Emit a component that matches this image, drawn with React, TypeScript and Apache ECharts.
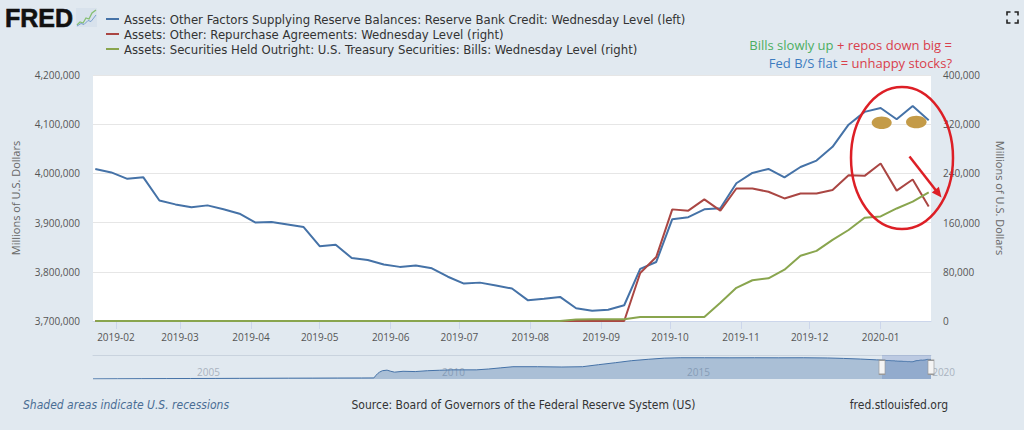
import React, { useEffect, useRef } from 'react';
import * as echarts from 'echarts';

// ---------- data ----------
const weekDates = [
  '2019-01-23', '2019-01-30', '2019-02-06', '2019-02-13', '2019-02-20', '2019-02-27',
  '2019-03-06', '2019-03-13', '2019-03-20', '2019-03-27', '2019-04-03', '2019-04-10',
  '2019-04-17', '2019-04-24', '2019-05-01', '2019-05-08', '2019-05-15', '2019-05-22',
  '2019-05-29', '2019-06-05', '2019-06-12', '2019-06-19', '2019-06-26', '2019-07-03',
  '2019-07-10', '2019-07-17', '2019-07-24', '2019-07-31', '2019-08-07', '2019-08-14',
  '2019-08-21', '2019-08-28', '2019-09-04', '2019-09-11', '2019-09-18', '2019-09-25',
  '2019-10-02', '2019-10-09', '2019-10-16', '2019-10-23', '2019-10-30', '2019-11-06',
  '2019-11-13', '2019-11-20', '2019-11-27', '2019-12-04', '2019-12-11', '2019-12-18',
  '2019-12-25', '2020-01-01', '2020-01-08', '2020-01-15', '2020-01-22',
];

const reserveBankCredit = [
  4009000, 4002000, 3989000, 3992000, 3945000, 3937000,
  3931000, 3935000, 3927000, 3918000, 3900000, 3901000,
  3896000, 3891000, 3852000, 3855000, 3828000, 3824000,
  3815000, 3810000, 3813000, 3807000, 3790000, 3776000,
  3778000, 3772000, 3766000, 3742000, 3745000, 3749000,
  3726000, 3721000, 3723000, 3732000, 3806000, 3820000,
  3907000, 3911000, 3927000, 3929000, 3980000, 4001000,
  4009000, 3992000, 4013000, 4026000, 4054000, 4099000,
  4125000, 4133000, 4110000, 4137000, 4108000,
];

const repurchaseAgreements = [
  0, 0, 0, 0, 0, 0,
  0, 0, 0, 0, 0, 0,
  0, 0, 0, 0, 0, 0,
  0, 0, 0, 0, 0, 0,
  0, 0, 0, 0, 0, 0,
  0, 0, 0, 0, 78000, 104000,
  181500, 179400, 197700, 179400, 215500, 215500,
  210100, 199300, 207400, 207400, 213000, 237000,
  236000, 256000, 212000, 230000, 186000,
];

const treasuryBills = [
  0, 0, 0, 0, 0, 0,
  0, 0, 0, 0, 0, 0,
  0, 0, 0, 0, 0, 0,
  0, 0, 0, 0, 0, 0,
  0, 0, 0, 0, 0, 0,
  2500, 3000, 3000, 3000, 6500, 6500,
  6500, 6500, 6500, 29600, 53900, 66300,
  69500, 83500, 106000, 114000, 132000, 148000,
  168000, 170000, 183000, 194000, 209000,
];

// long-run history shown in the navigator (before the weekly window)
const navDates = [
  '2002-12-18', '2003-06-18', '2003-12-17', '2004-06-16', '2004-12-15', '2005-06-15',
  '2005-12-14', '2006-06-14', '2006-12-13', '2007-06-13', '2007-12-12', '2008-06-11',
  '2008-09-10', '2008-09-24', '2008-10-08', '2008-10-22', '2008-11-12', '2008-12-17',
  '2009-01-14', '2009-02-11', '2009-04-15', '2009-07-15', '2009-10-14', '2010-01-13',
  '2010-04-14', '2010-07-14', '2010-10-13', '2011-01-12', '2011-04-13', '2011-07-13',
  '2012-01-11', '2012-07-11', '2012-12-12', '2013-04-10', '2013-08-14', '2013-12-11',
  '2014-04-16', '2014-08-13', '2014-12-10', '2015-06-10', '2015-12-16', '2016-06-15',
  '2016-12-14', '2017-06-14', '2017-12-13', '2018-04-11', '2018-08-15', '2018-12-12',
];
const navCredit = [
  720000, 740000, 760000, 775000, 790000, 800000,
  815000, 830000, 845000, 855000, 870000, 880000,
  890000, 1300000, 1650000, 1900000, 2150000, 2250000,
  2050000, 1900000, 2050000, 2000000, 2150000, 2230000,
  2300000, 2300000, 2300000, 2450000, 2650000, 2850000,
  2850000, 2800000, 2850000, 3200000, 3550000, 3900000,
  4150000, 4350000, 4420000, 4420000, 4410000, 4420000,
  4410000, 4420000, 4380000, 4300000, 4190000, 4050000,
];

const monthTicks = [
  '2019-02-01', '2019-03-01', '2019-04-01', '2019-05-01', '2019-06-01', '2019-07-01',
  '2019-08-01', '2019-09-01', '2019-10-01', '2019-11-01', '2019-12-01', '2020-01-01',
];
const navYearTicks = ['2005-01-01', '2010-01-01', '2015-01-01', '2020-01-01'];

const seriesNames = [
  'Assets: Other Factors Supplying Reserve Balances: Reserve Bank Credit: Wednesday Level (left)',
  'Assets: Other: Repurchase Agreements: Wednesday Level (right)',
  'Assets: Securities Held Outright: U.S. Treasury Securities: Bills: Wednesday Level (right)',
];
const seriesColors = ['#4572a7', '#aa4643', '#89a54e'];

// ---------- helpers ----------
const toTs = (s: string) => {
  const [y, m, d] = s.split('-').map(Number);
  return new Date(y, m - 1, d).getTime();
};
const fmtNum = (v: number) => Math.round(v).toLocaleString('en-US');

const NARROW = '"Liberation Sans Narrow", "DejaVu Sans Condensed", "Roboto Condensed", "Liberation Sans", sans-serif';
const OPEN = '"Open Sans", "Noto Sans", sans-serif';

function buildOption() {
  const mainMin = toTs('2019-01-22');
  const mainMax = toTs('2020-01-23');
  const navMin = toTs(navDates[0]);
  const navMax = toTs(weekDates[weekDates.length - 1]);
  const selStart = toTs('2019-01-22');
  const selEnd = toTs(weekDates[weekDates.length - 1]);

  const mk = (vals: number[]) => weekDates.map((d, i) => [toTs(d), vals[i]]);
  const navData = navDates
    .map((d, i) => [toTs(d), navCredit[i]])
    .concat(mk(reserveBankCredit));

  const monthTs = monthTicks.map(toTs);
  const yearTs = navYearTicks.map(toTs);

  const legendGraphics: any[] = [];
  seriesNames.forEach((name, i) => {
    const cy = 19 + i * 15;
    legendGraphics.push({
      type: 'rect',
      shape: { x: 106, y: cy - 1, width: 13, height: 2 },
      style: { fill: seriesColors[i] },
    });
    legendGraphics.push({
      type: 'text',
      x: 124,
      y: cy,
      style: {
        text: name,
        font: `13px ${NARROW}`,
        fill: '#333333',
        align: 'left',
        verticalAlign: 'middle',
      },
    });
  });

  const red = '#dd1f26';
  const annFont = `13px ${OPEN}`;

  return {
    animation: false,
    backgroundColor: '#e1e9f0',
    grid: [
      { left: 93, top: 75, width: 838, height: 246, show: true, backgroundColor: '#ffffff', borderWidth: 0 },
      { left: 93, top: 355, width: 838, height: 24, show: false },
    ],
    xAxis: [
      {
        type: 'value',
        gridIndex: 0,
        min: mainMin,
        max: mainMax,
        axisLine: { show: true, lineStyle: { color: '#ccd6eb', width: 1 } },
        axisTick: { show: true, customValues: monthTs, length: 8, lineStyle: { color: '#ccd6eb' } },
        axisLabel: {
          customValues: monthTs,
          formatter: (v: number) => {
            const d = new Date(v);
            return d.getFullYear() + '-' + String(d.getMonth() + 1).padStart(2, '0');
          },
          fontFamily: OPEN,
          fontSize: 10,
          color: '#555555',
          margin: 11,
          hideOverlap: false,
        },
        splitLine: { show: false },
      },
      {
        type: 'value',
        gridIndex: 1,
        min: navMin,
        max: navMax,
        axisLine: { show: false },
        axisTick: { show: false },
        axisLabel: {
          inside: true,
          customValues: yearTs,
          formatter: (v: number) => String(new Date(v).getFullYear()),
          align: 'left',
          verticalAlign: 'middle',
          padding: [0, 0, 0, 4],
          margin: 7,
          fontFamily: OPEN,
          fontSize: 10,
          color: '#a9b3bf',
          hideOverlap: false,
        },
        splitLine: { show: false },
      },
      {
        type: 'value',
        gridIndex: 1,
        position: 'top',
        min: navMin,
        max: navMax,
        axisLine: { show: true, lineStyle: { color: '#c9d3de', width: 1 } },
        axisTick: { show: false },
        axisLabel: { show: false },
        splitLine: { show: false },
      },
    ],
    yAxis: [
      {
        type: 'value',
        gridIndex: 0,
        position: 'left',
        min: 3700000,
        max: 4200000,
        interval: 100000,
        name: 'Millions of U.S. Dollars',
        nameLocation: 'middle',
        nameRotate: 90,
        nameGap: 72,
        nameTextStyle: { fontFamily: OPEN, fontSize: 11, color: '#666666' },
        axisLine: { show: false },
        axisTick: { show: false },
        axisLabel: { formatter: fmtNum, fontFamily: OPEN, fontSize: 10, color: '#555555', margin: 13 },
        splitLine: { show: true, lineStyle: { color: '#e6e6e6', width: 1 } },
      },
      {
        type: 'value',
        gridIndex: 0,
        position: 'right',
        min: 0,
        max: 400000,
        interval: 80000,
        name: 'Millions of U.S. Dollars',
        nameLocation: 'middle',
        nameRotate: -90,
        nameGap: 64,
        nameTextStyle: { fontFamily: OPEN, fontSize: 11, color: '#666666' },
        axisLine: { show: false },
        axisTick: { show: false },
        axisLabel: { formatter: fmtNum, fontFamily: OPEN, fontSize: 10, color: '#555555', margin: 12 },
        splitLine: { show: false },
      },
      {
        type: 'value',
        gridIndex: 1,
        min: 700000,
        max: 4900000,
        show: false,
        splitLine: { show: false },
      },
    ],
    series: [
      {
        name: seriesNames[0],
        type: 'line',
        xAxisIndex: 0,
        yAxisIndex: 0,
        data: mk(reserveBankCredit),
        symbol: 'none',
        lineStyle: { color: seriesColors[0], width: 2 },
        itemStyle: { color: seriesColors[0] },
      },
      {
        name: seriesNames[1],
        type: 'line',
        xAxisIndex: 0,
        yAxisIndex: 1,
        data: mk(repurchaseAgreements),
        symbol: 'none',
        lineStyle: { color: seriesColors[1], width: 2 },
        itemStyle: { color: seriesColors[1] },
      },
      {
        name: seriesNames[2],
        type: 'line',
        xAxisIndex: 0,
        yAxisIndex: 1,
        data: mk(treasuryBills),
        symbol: 'none',
        lineStyle: { color: seriesColors[2], width: 2 },
        itemStyle: { color: seriesColors[2] },
      },
      {
        name: 'navigator',
        type: 'line',
        xAxisIndex: 1,
        yAxisIndex: 2,
        data: navData,
        symbol: 'none',
        silent: true,
        lineStyle: { color: '#4572a7', width: 1 },
        areaStyle: { color: 'rgba(69,114,167,0.5)' },
        markArea: {
          silent: true,
          itemStyle: { color: 'rgba(102,133,194,0.3)' },
          data: [[{ xAxis: selStart }, { xAxis: selEnd }]],
        },
        markPoint: {
          silent: true,
          symbol: 'rect',
          symbolSize: [6, 14],
          label: { show: false },
          itemStyle: { color: '#f4f4f4', borderColor: '#999999', borderWidth: 1 },
          data: [
            { coord: [selStart, 2750000] },
            { coord: [selEnd, 2750000] },
          ],
        },
      },
    ],
    graphic: [
      // FRED logo
      {
        type: 'text',
        x: 5,
        y: 18,
        style: {
          text: 'FRED',
          font: `bold 25px "Liberation Sans", Arial, sans-serif`,
          fill: '#111111',
          stroke: '#111111',
          lineWidth: 0.6,
          align: 'left',
          verticalAlign: 'middle',
        },
      },
      { type: 'rect', shape: { x: 76, y: 8, width: 21, height: 19 }, style: { fill: '#d8e2ec' } },
      {
        type: 'polyline',
        shape: { points: [[77, 25], [80, 22], [83, 23], [86, 18], [89, 19], [92, 13], [96, 10]] },
        style: { stroke: '#86bf72', lineWidth: 1.3, fill: 'none' },
      },
      {
        type: 'polyline',
        shape: { points: [[77, 26], [81, 23.5], [84, 24.5], [88, 20.5], [91, 21.5], [96, 15]] },
        style: { stroke: '#7aa0cf', lineWidth: 1, fill: 'none' },
      },
      // fullscreen icon
      { type: 'polyline', shape: { points: [[1007, 15.5], [1007, 12], [1010.5, 12]] }, style: { stroke: '#222', lineWidth: 1.6, fill: 'none' } },
      { type: 'polyline', shape: { points: [[1014.5, 12], [1018, 12], [1018, 15.5]] }, style: { stroke: '#222', lineWidth: 1.6, fill: 'none' } },
      { type: 'polyline', shape: { points: [[1007, 19.5], [1007, 23], [1010.5, 23]] }, style: { stroke: '#222', lineWidth: 1.6, fill: 'none' } },
      { type: 'polyline', shape: { points: [[1014.5, 23], [1018, 23], [1018, 19.5]] }, style: { stroke: '#222', lineWidth: 1.6, fill: 'none' } },
      ...legendGraphics,
      // annotation text
      {
        type: 'text',
        x: 952,
        y: 45,
        z: 100,
        style: {
          text: '{g|Bills slowly up} {r|+ repos down big =}',
          font: annFont,
          align: 'right',
          verticalAlign: 'middle',
          rich: {
            g: { fill: '#4cae62', font: annFont },
            r: { fill: '#d9404c', font: annFont },
          },
        },
      },
      {
        type: 'text',
        x: 952,
        y: 63,
        z: 100,
        style: {
          text: '{b|Fed B/S flat} {r|= unhappy stocks?}',
          font: annFont,
          align: 'right',
          verticalAlign: 'middle',
          rich: {
            b: { fill: '#3d7cc0', font: annFont },
            r: { fill: '#d9404c', font: annFont },
          },
        },
      },
      // drawn annotations
      {
        type: 'ellipse',
        z: 100,
        shape: { cx: 902, cy: 158, rx: 51, ry: 71 },
        style: { fill: 'none', stroke: red, lineWidth: 2.5 },
      },
      { type: 'ellipse', z: 100, shape: { cx: 881.7, cy: 122.8, rx: 10, ry: 6.3 }, style: { fill: '#c49b48' } },
      { type: 'ellipse', z: 100, shape: { cx: 916.3, cy: 122, rx: 10.3, ry: 6.3 }, style: { fill: '#c49b48' } },
      {
        type: 'line',
        z: 100,
        shape: { x1: 909.5, y1: 156.5, x2: 936, y2: 190.5 },
        style: { stroke: red, lineWidth: 2.5 },
      },
      {
        type: 'polygon',
        z: 100,
        shape: { points: [[941.5, 197.5], [931.8, 192.4], [938.9, 186.85]] },
        style: { fill: red },
      },
      // footer
      {
        type: 'text',
        x: 23,
        y: 405,
        style: {
          text: 'Shaded areas indicate U.S. recessions',
          font: `italic 12px ${NARROW}`,
          fill: '#4a6d94',
          align: 'left',
          verticalAlign: 'middle',
        },
      },
      {
        type: 'text',
        x: 523.5,
        y: 405,
        style: {
          text: 'Source: Board of Governors of the Federal Reserve System (US)',
          font: `12px ${NARROW}`,
          fill: '#333333',
          align: 'center',
          verticalAlign: 'middle',
        },
      },
      {
        type: 'text',
        x: 948,
        y: 405,
        style: {
          text: 'fred.stlouisfed.org',
          font: `12px ${NARROW}`,
          fill: '#333333',
          align: 'right',
          verticalAlign: 'middle',
        },
      },
    ],
  };
}

export default function App() {
  const ref = useRef<HTMLDivElement>(null);
  useEffect(() => {
    if (!ref.current) return;
    const chart = echarts.init(ref.current, null, { renderer: 'svg' });
    chart.setOption(buildOption() as any);
    return () => {
      chart.dispose();
    };
  }, []);
  return (
    <div
      ref={ref}
      style={{ position: 'absolute', left: 0, top: 0, width: 1024, height: 430 }}
    />
  );
}
